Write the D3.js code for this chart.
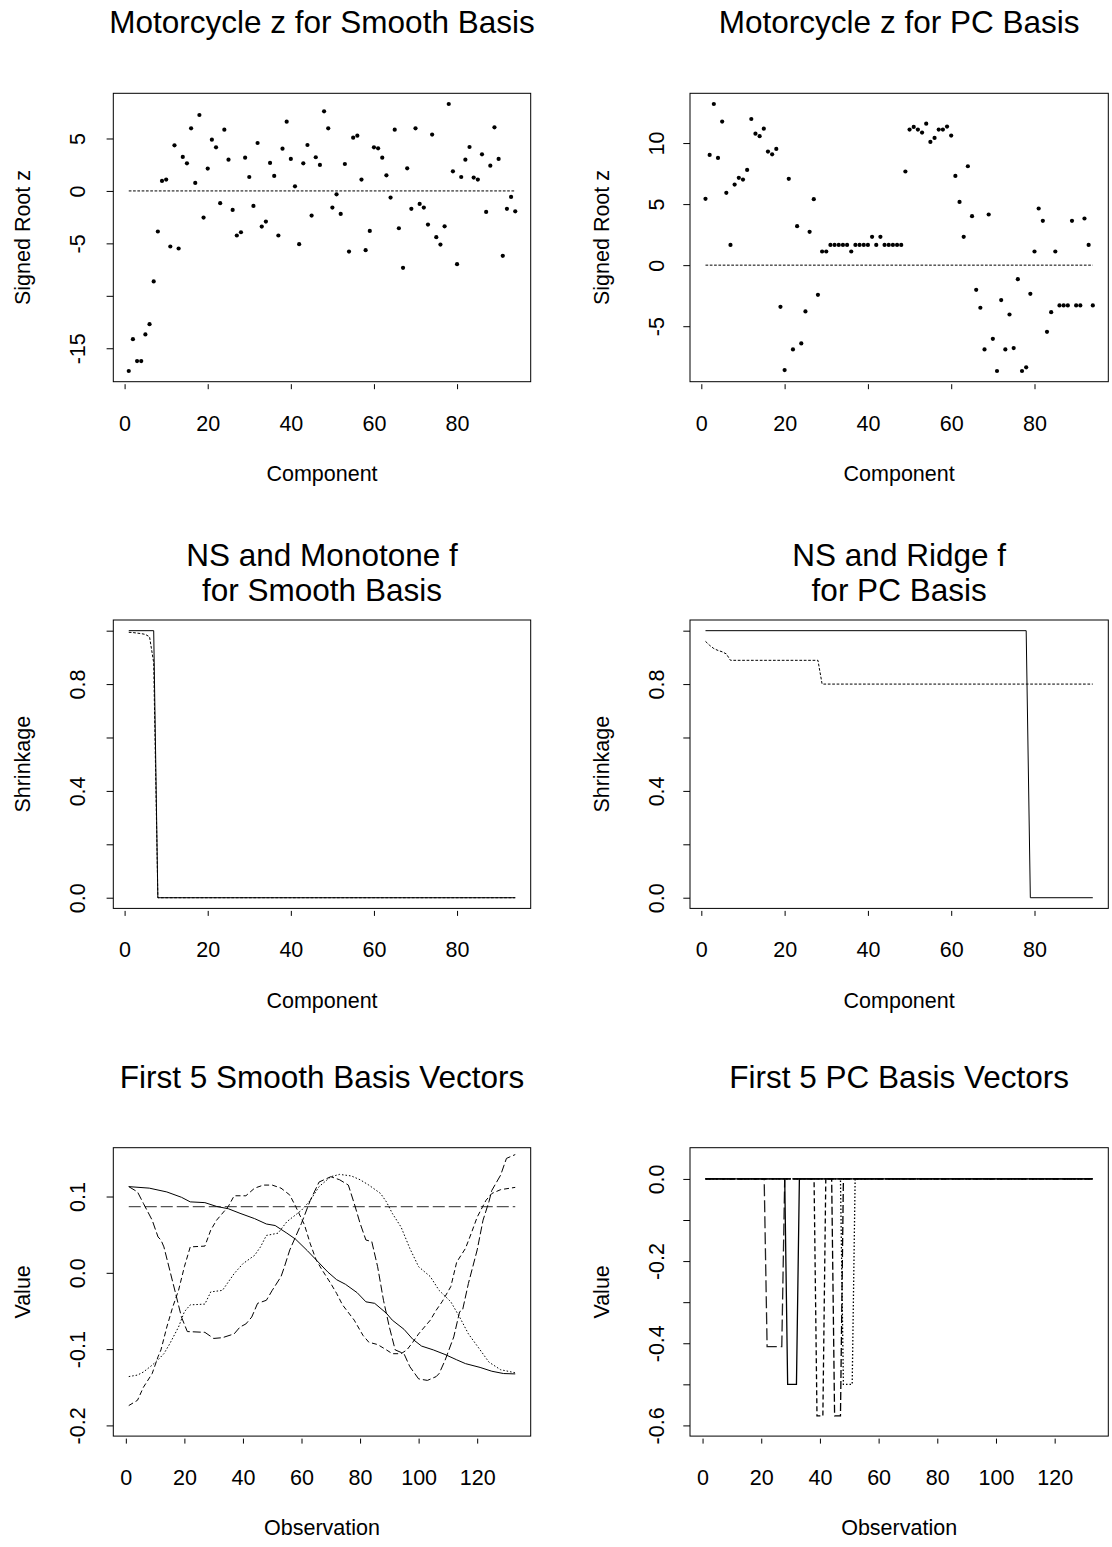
<!DOCTYPE html>
<html>
<head>
<meta charset="utf-8">
<script src="https://cdn.jsdelivr.net/npm/d3@7"></script>
<style>
  body { margin: 0; background: #fff; }
  text { font-family: "Liberation Sans", Arial, Helvetica, sans-serif; fill: #000; }
</style>
</head>
<body>
<div id="chart"></div>
<script>
// ---- data ----
// signed root z, components 1..94
const smoothZ = [-17.17, -14.13, -16.22, -16.22, -13.68, -12.70, -8.63, -3.87, 0.95, 1.08,
  -5.30, 4.35, -5.49, 3.24, 2.63, 5.97, 0.76, 7.24, -2.54, 2.13,
  4.89, 4.16, -1.17, 5.84, 2.98, -1.81, -4.25, -3.94, 3.17, 1.33,
  -1.43, 4.57, -3.40, -2.92, 2.67, 1.43, -4.25, 4.03, 6.60, 3.05,
  0.44, -5.08, 2.63, 4.38, -2.35, 3.21, 2.48, 7.59, 5.97, -1.59,
  -0.32, -2.19, 2.57, -5.78, 5.08, 5.27, 1.08, -5.65, -3.81, 4.16,
  4.06, 3.17, 1.49, -0.63, 5.84, -3.56, -7.33, 2.16, -1.71, 5.97,
  -1.24, -1.59, -3.21, 5.37, -4.41, -5.11, -3.37, 8.29, 1.87, -6.98,
  1.33, 2.98, 4.19, 1.27, 1.08, 3.49, -2.00, 2.41, 6.06, 3.05,
  -6.19, -1.71, -0.57, -1.94];

const pcZ = [5.43, 9.03, 13.20, 8.78, 11.76, 5.92, 1.66, 6.60, 7.15, 7.01,
  7.80, 11.97, 10.77, 10.56, 11.18, 9.30, 9.08, 9.52, -3.41, -8.59,
  7.07, -6.90, 3.19, -6.41, -3.79, 2.73, 5.40, -2.43, 1.12, 1.12,
  1.66, 1.66, 1.66, 1.66, 1.66, 1.12, 1.66, 1.66, 1.66, 1.66,
  2.32, 1.66, 2.32, 1.66, 1.66, 1.66, 1.66, 1.66, 7.67, 11.10,
  11.32, 11.10, 10.86, 11.59, 10.09, 10.42, 11.10, 11.10, 11.35, 10.61,
  7.31, 5.18, 2.32, 8.10, 4.01, -2.02, -3.49, -6.90, 4.15, -6.03,
  -8.67, -2.86, -6.90, -4.04, -6.79, -1.15, -8.67, -8.37, -2.35, 1.12,
  4.64, 3.63, -5.46, -3.85, 1.12, -3.30, -3.30, -3.30, 3.63, -3.30,
  -3.30, 3.82, 1.66, -3.30];

// shrinkage curves (component, value) at the corners of the step lines
const monoNSx = [1, 7, 8, 94];
const monoNSy = [1, 1, 0, 0];
const monoFx = [1, 2, 3, 4, 5, 6, 7, 8, 94];
const monoFy = [0.994, 0.993, 0.991, 0.989, 0.986, 0.977, 0.88, 0, 0];
const ridgeNSx = [1, 78, 79, 94];
const ridgeNSy = [1, 1, 0, 0];
const ridgeFx = [1, 2, 3, 4, 5, 6, 7, 28, 29, 94];
const ridgeFy = [0.96, 0.945, 0.933, 0.926, 0.921, 0.913, 0.889, 0.889, 0.8, 0.8];

// smooth basis vectors (observation, value)
const sm1x = [1, 8, 14, 19, 22, 27, 31, 35, 39, 44, 48, 51, 55, 58, 62, 65, 69, 72, 75, 79,
  82, 85, 89, 91, 95, 98, 101, 105, 109, 113, 116, 121, 125, 129, 133];
const sm1y = [0.113, 0.111, 0.106, 0.099, 0.093, 0.092, 0.087, 0.084, 0.078, 0.071,
  0.064, 0.062, 0.052, 0.044, 0.029, 0.017, 0.001, -0.009, -0.015, -0.026,
  -0.038, -0.040, -0.053, -0.062, -0.074, -0.087, -0.096, -0.101, -0.107, -0.114,
  -0.119, -0.124, -0.129, -0.132, -0.1325];
const sm2x = [1, 133];
const sm2y = [0.0867, 0.0867];
const sm3x = [1, 4, 6, 9, 11, 12, 13, 15, 17, 19, 21, 27, 30, 33, 37, 39, 41, 43, 45, 48,
  50, 53, 54, 56, 60, 63, 66, 70, 73, 76, 78, 80, 82, 84, 86, 88, 90, 92, 95, 97,
  100, 103, 106, 107, 109, 112, 114, 115, 117, 120, 122, 124, 125, 128, 130, 133];
const sm3y = [0.113, 0.106, 0.091, 0.069, 0.047, 0.043, 0.034, 0.0035, -0.027, -0.058,
  -0.077, -0.078, -0.086, -0.085, -0.080, -0.071, -0.067, -0.058, -0.040, -0.036,
  -0.023, -0.005, 0.006, 0.030, 0.065, 0.095, 0.119, 0.126, 0.122, 0.115,
  0.091, 0.065, 0.043, 0.041, 0.008, -0.036, -0.071, -0.101, -0.106, -0.123,
  -0.139, -0.141, -0.136, -0.132, -0.115, -0.084, -0.051, -0.049, -0.014, 0.030,
  0.069, 0.093, 0.108, 0.128, 0.150, 0.155];
const sm4x = [1, 4, 6, 9, 11, 12, 14, 16, 18, 20, 22, 27, 29, 31, 35, 37, 41, 44, 47, 50,
  53, 56, 58, 61, 63, 65, 67, 70, 72, 74, 78, 81, 83, 86, 89, 91, 94, 96, 98, 100,
  104, 106, 108, 111, 113, 116, 118, 120, 123, 125, 128, 133];
const sm4y = [-0.174, -0.167, -0.150, -0.132, -0.110, -0.101, -0.071, -0.045, -0.023, 0.008,
  0.034, 0.035, 0.056, 0.069, 0.087, 0.101, 0.101, 0.111, 0.115, 0.115,
  0.111, 0.102, 0.087, 0.063, 0.038, 0.017, 0.004, -0.014, -0.027, -0.042,
  -0.062, -0.082, -0.091, -0.094, -0.101, -0.106, -0.106, -0.101, -0.091, -0.080,
  -0.062, -0.049, -0.038, -0.018, 0.014, 0.032, 0.052, 0.073, 0.095, 0.104,
  0.109, 0.112];
const sm5x = [1, 4, 6, 9, 11, 13, 15, 18, 20, 22, 27, 29, 33, 37, 40, 44, 46, 48, 52, 55,
  60, 63, 66, 70, 73, 77, 80, 83, 87, 89, 91, 94, 97, 100, 104, 107, 111, 114, 117, 121,
  124, 128, 133];
const sm5y = [-0.136, -0.134, -0.130, -0.121, -0.114, -0.106, -0.093, -0.071, -0.051, -0.042,
  -0.041, -0.025, -0.023, -0.001, 0.012, 0.023, 0.034, 0.049, 0.052, 0.067,
  0.082, 0.095, 0.113, 0.126, 0.129, 0.127, 0.122, 0.115, 0.104, 0.093,
  0.078, 0.060, 0.032, 0.008, -0.005, -0.023, -0.038, -0.058, -0.080, -0.101,
  -0.117, -0.127, -0.131];

// PC basis vectors (observation, value)
const pc1x = [1, 21, 22, 27, 28, 133];
const pc1y = [0, 0, -0.408, -0.408, 0, 0];
const pc2x = [1, 28, 29, 32, 33, 133];
const pc2y = [0, 0, -0.5, -0.5, 0, 0];
const pc3x = [1, 38, 39, 41, 42, 133];
const pc3y = [0, 0, -0.577, -0.577, 0, 0];
const pc4x = [1, 44, 45, 47, 48, 133];
const pc4y = [0, 0, -0.577, -0.577, 0, 0];
const pc5x = [1, 47, 48, 51, 52, 133];
const pc5y = [0, 0, -0.5, -0.5, 0, 0];

// ticks
const compTicks = [0, 20, 40, 60, 80];
const obsTicks = [0, 20, 40, 60, 80, 100, 120];
const zSmoothTicks = [-15, -10, -5, 0, 5];
const zSmoothLabels = [-15, -5, 0, 5];
const zPCTicks = [-5, 0, 5, 10];
const shrinkTicks = [0, 0.2, 0.4, 0.6, 0.8, 1.0];
const shrinkLabels = [0, 0.4, 0.8];
const smVecTicks = [-0.2, -0.1, 0, 0.1];
const pcVecTicks = [-0.6, -0.5, -0.4, -0.3, -0.2, -0.1, 0];
const pcVecLabels = [-0.6, -0.4, -0.2, 0];

// ---- layout ----
const W = 1112, H = 1547;
const boxLeft = [113.3, 690];
const boxW = [417.4, 418.3];
const boxTop = [93.3, 620, 1147.7];
const boxH = 288.4;
const labelOff = [36.3, 33.3];
const ylabX = [22, 601];
const axisFont = 21.5, titleFont = 31.5;

const svg = d3.select("#chart").append("svg")
  .attr("width", W).attr("height", H)
  .style("background", "#fff");

// R style axis range: data range widened by 4% on each side
function rPad(lim) {
  let r = lim[1] - lim[0];
  return [lim[0] - 0.04 * r, lim[1] + 0.04 * r];
}

function panel(p) {
  let left = boxLeft[p.col], top = boxTop[p.row], w = boxW[p.col], h = boxH;
  let g = svg.append("g").attr("transform", "translate(" + left + "," + top + ")");

  let x = d3.scaleLinear().domain(rPad(p.xlim)).range([0, w]);
  let y = d3.scaleLinear().domain(rPad(p.ylim)).range([h, 0]);

  // x axis, ticks hang a little below the box
  let xAxis = d3.axisBottom(x).tickValues(p.xticks).tickSize(5).tickSizeOuter(0)
    .tickPadding(26.3).tickFormat(d => String(d));
  let xg = g.append("g").attr("transform", "translate(0," + (h + 2.5) + ")").call(xAxis);
  xg.select(".domain").remove();
  xg.selectAll("line").attr("stroke", "#000");
  xg.selectAll("text").style("font-size", axisFont + "px")
    .style("font-family", "'Liberation Sans', Arial, sans-serif");

  // y axis, labels parallel to the axis
  let fmt = p.yfmt || (d => String(d));
  let yAxis = d3.axisLeft(y).tickValues(p.yticks).tickSize(6.7).tickSizeOuter(0)
    .tickFormat(d => (p.ylabels && !p.ylabels.includes(d)) ? "" : fmt(d));
  let yg = g.append("g").call(yAxis);
  yg.select(".domain").remove();
  yg.selectAll("line").attr("stroke", "#000");
  yg.selectAll("text")
    .attr("x", null).attr("dy", "0.35em")
    .attr("text-anchor", "middle")
    .attr("transform", "translate(" + (-labelOff[p.col]) + ",0) rotate(-90)")
    .style("font-size", axisFont + "px")
    .style("font-family", "'Liberation Sans', Arial, sans-serif");

  // axis titles
  g.append("text").attr("x", w / 2).attr("y", h + 99.3)
    .attr("text-anchor", "middle").style("font-size", axisFont + "px").text(p.xlab);
  svg.append("text")
    .attr("transform", "translate(" + ylabX[p.col] + "," + (top + h / 2) + ") rotate(-90)")
    .attr("dy", "0.35em").attr("text-anchor", "middle")
    .style("font-size", axisFont + "px").text(p.ylab);

  // main title
  let t = svg.append("text").attr("text-anchor", "middle")
    .style("font-size", titleFont + "px");
  p.title.forEach((line, i) => {
    t.append("tspan").attr("x", left + w / 2)
      .attr("y", p.titleY + i * 35).text(line);
  });

  p.draw(g, x, y);

  // frame
  g.append("rect").attr("width", w).attr("height", h)
    .attr("fill", "none").attr("stroke", "#000").attr("stroke-width", 1);
}

function addLine(g, x, y, xs, ys, dash, color, width) {
  let line = d3.line().x(d => x(d[0])).y(d => y(d[1]));
  g.append("path").datum(d3.zip(xs, ys))
    .attr("d", line).attr("fill", "none")
    .attr("stroke", color || "#000")
    .attr("stroke-width", width || 1)
    .attr("stroke-dasharray", dash || null);
}

function scatter(vals) {
  return function (g, x, y) {
    addLine(g, x, y, [1, vals.length], [0, 0], "2.7,1.6");
    g.selectAll("circle.pt").data(vals).enter().append("circle")
      .attr("class", "pt")
      .attr("cx", (d, i) => x(i + 1)).attr("cy", d => y(d))
      .attr("r", 2.1).attr("fill", "#000");
  };
}

const f1 = d => d.toFixed(1);

panel({
  col: 0, row: 0, title: ["Motorcycle z for Smooth Basis"], titleY: 33,
  xlab: "Component", ylab: "Signed Root z",
  xlim: [1, smoothZ.length], ylim: d3.extent(smoothZ),
  xticks: compTicks, yticks: zSmoothTicks, ylabels: zSmoothLabels,
  draw: scatter(smoothZ)
});
panel({
  col: 1, row: 0, title: ["Motorcycle z for PC Basis"], titleY: 33,
  xlab: "Component", ylab: "Signed Root z",
  xlim: [1, pcZ.length], ylim: d3.extent(pcZ),
  xticks: compTicks, yticks: zPCTicks,
  draw: scatter(pcZ)
});
panel({
  col: 0, row: 1, title: ["NS and Monotone f", "for Smooth Basis"], titleY: 566,
  xlab: "Component", ylab: "Shrinkage",
  xlim: [1, 94], ylim: [0, 1],
  xticks: compTicks, yticks: shrinkTicks, ylabels: shrinkLabels, yfmt: f1,
  draw: (g, x, y) => {
    addLine(g, x, y, monoNSx, monoNSy);
    addLine(g, x, y, monoFx, monoFy, "2.7,1.7");
  }
});
panel({
  col: 1, row: 1, title: ["NS and Ridge f", "for PC Basis"], titleY: 566,
  xlab: "Component", ylab: "Shrinkage",
  xlim: [1, 94], ylim: [0, 1],
  xticks: compTicks, yticks: shrinkTicks, ylabels: shrinkLabels, yfmt: f1,
  draw: (g, x, y) => {
    addLine(g, x, y, ridgeNSx, ridgeNSy);
    addLine(g, x, y, ridgeFx, ridgeFy, "2.7,1.7");
  }
});
panel({
  col: 0, row: 2, title: ["First 5 Smooth Basis Vectors"], titleY: 1088,
  xlab: "Observation", ylab: "Value",
  xlim: [1, 133], ylim: [-0.2, 0.15],
  xticks: obsTicks, yticks: smVecTicks, yfmt: f1,
  draw: (g, x, y) => {
    addLine(g, x, y, sm2x, sm2y, "12,4", "#555", 1.3);
    addLine(g, x, y, sm5x, sm5y, "1.5,2");
    addLine(g, x, y, sm4x, sm4y, "5,3");
    addLine(g, x, y, sm3x, sm3y, "8,3");
    addLine(g, x, y, sm1x, sm1y);
  }
});
panel({
  col: 1, row: 2, title: ["First 5 PC Basis Vectors"], titleY: 1088,
  xlab: "Observation", ylab: "Value",
  xlim: [1, 133], ylim: [-0.6, 0.05],
  xticks: obsTicks, yticks: pcVecTicks, ylabels: pcVecLabels, yfmt: f1,
  draw: (g, x, y) => {
    addLine(g, x, y, pc1x, pc1y, "12,4", "#222", 1.3);
    addLine(g, x, y, pc5x, pc5y, "1.5,2", "#000", 1.3);
    addLine(g, x, y, pc3x, pc3y, "5,3", "#000", 1.3);
    addLine(g, x, y, pc4x, pc4y, "8,3", "#000", 1.3);
    addLine(g, x, y, pc2x, pc2y, null, "#000", 1.3);
  }
});
</script>
</body>
</html>
